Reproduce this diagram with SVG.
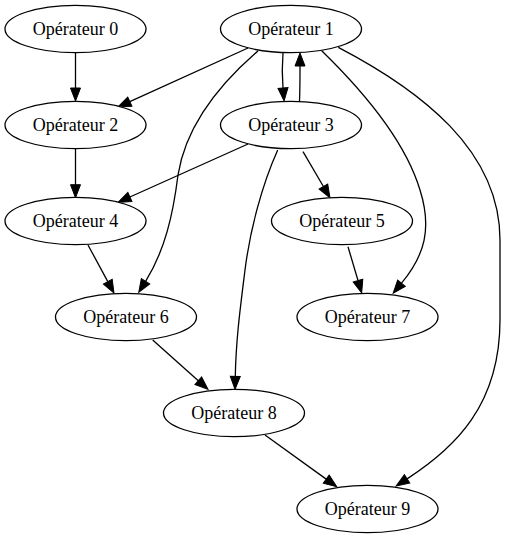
<svg xmlns="http://www.w3.org/2000/svg" width="506" height="539" viewBox="0 0 506 539">
<style>
.node ellipse{fill:#fff;stroke:#000;stroke-width:1.3}
.node text{font-family:"Liberation Serif","Times New Roman",serif;font-size:18px;text-anchor:middle;fill:#000}
.edges path{fill:none;stroke:#000;stroke-width:1.3;marker-end:url(#arr)}
</style>
<defs>
<marker id="arr" markerUnits="userSpaceOnUse" markerWidth="14" markerHeight="12" refX="0" refY="5" orient="auto" viewBox="0 0 14 10" overflow="visible">
<path d="M0,0 L13,5 L0,10 z" fill="#000" stroke="#000" stroke-width="1"/>
</marker>
</defs>
<rect width="506" height="539" fill="#fff"/>
<g id="edges" class="edges">
<path d="M75.5,53 L75.5,88"/>
<path d="M75.5,149 L75.5,184.7"/>
<path d="M248,48 L129.8,101.6"/>
<path d="M248,144 L129.9,197"/>
<path d="M283,53 C282,65 282,76 283,88"/>
<path d="M299.5,101 C300,90 300,78 300,66"/>
<path d="M303,151.7 L323.4,186.5"/>
<path d="M88,245 L107.8,281.6"/>
<path d="M348,246.7 L358,280.5"/>
<path d="M152.7,340 L198.3,380.7"/>
<path d="M265,435 L326.2,479.1"/>
<path d="M258,51 C222,82 186,125 178,175 C173,215 165,250 145.6,281.3"/>
<path d="M321.7,50.7 C360,88 405,140 420,190 C432,228 425,255 401.5,283.2"/>
<path d="M338.3,47.3 C420,90 500,150 500,240 L500,320 C500,405 455,448 407.1,478.9"/>
<path d="M277.7,150 C262,185 250,230 245,270 C240,310 236,340 235.3,376.3"/>
</g>
<g id="node0" class="node"><ellipse cx="75.5" cy="29" rx="70.5" ry="23.7"/><text x="75.5" y="34.5">Opérateur 0</text></g>
<g id="node1" class="node"><ellipse cx="291" cy="29" rx="70.5" ry="23.7"/><text x="291" y="34.5">Opérateur 1</text></g>
<g id="node2" class="node"><ellipse cx="75.5" cy="125" rx="70.5" ry="23.7"/><text x="75.5" y="130.5">Opérateur 2</text></g>
<g id="node3" class="node"><ellipse cx="291" cy="125" rx="70.5" ry="23.7"/><text x="291" y="130.5">Opérateur 3</text></g>
<g id="node4" class="node"><ellipse cx="75.5" cy="221" rx="70.5" ry="23.7"/><text x="75.5" y="226.5">Opérateur 4</text></g>
<g id="node5" class="node"><ellipse cx="342" cy="221" rx="70.5" ry="23.7"/><text x="342" y="226.5">Opérateur 5</text></g>
<g id="node6" class="node"><ellipse cx="126" cy="317" rx="70.5" ry="23.7"/><text x="126" y="322.5">Opérateur 6</text></g>
<g id="node7" class="node"><ellipse cx="367.5" cy="317" rx="70.5" ry="23.7"/><text x="367.5" y="322.5">Opérateur 7</text></g>
<g id="node8" class="node"><ellipse cx="234" cy="413" rx="70.5" ry="23.7"/><text x="234" y="418.5">Opérateur 8</text></g>
<g id="node9" class="node"><ellipse cx="367.5" cy="509" rx="70.5" ry="23.7"/><text x="367.5" y="514.5">Opérateur 9</text></g>
</svg>
